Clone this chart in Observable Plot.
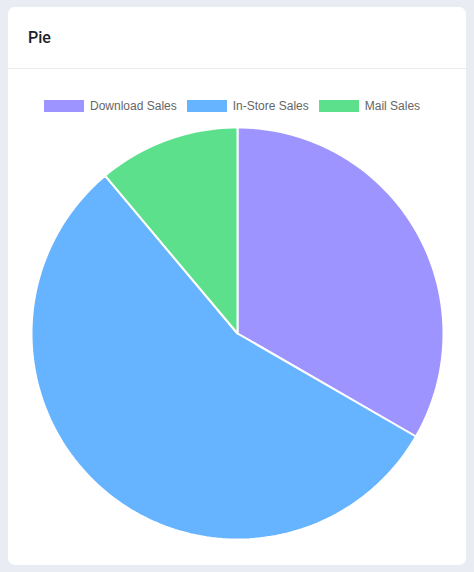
<!DOCTYPE html>
<html>
<head>
<meta charset="utf-8">
<script src="https://cdn.jsdelivr.net/npm/d3@7"></script>
<script src="https://cdn.jsdelivr.net/npm/@observablehq/plot@0.6"></script>
<style>
  html, body { margin: 0; padding: 0; }
  body { width: 474px; height: 572px; background: #e9ecf3; position: relative; overflow: hidden; font-family: "Liberation Sans", Arial, sans-serif; }
  .card { position: absolute; left: 8px; top: 7px; width: 458px; height: 558px; background: #fff; border-radius: 7px; }
  .head { position: absolute; left: 0; top: 0; width: 458px; height: 62px; border-bottom: 1px solid #e9ecef; box-sizing: border-box; }
  .title { position: absolute; left: 20px; top: 21px; font-family: Roboto, "Noto Sans", sans-serif; font-weight: 500; font-size: 16px; color: #1e2229; }
  .legend { position: absolute; left: 36px; top: 92px; display: flex; align-items: center; font-size: 12px; color: #666; }
  .item { display: flex; align-items: center; margin-right: 10px; }
  .sw { width: 40px; height: 12px; margin-right: 6px; }
  #chart { position: absolute; left: 22px; top: 119px; }
</style>
</head>
<body>
<div class="card">
  <div class="head"><div class="title">Pie</div></div>
  <div class="legend" id="legend"></div>
  <div id="chart"></div>
</div>
<script>
const categories = ["Download Sales", "In-Store Sales", "Mail Sales"];
const values = [300, 500, 100];
const colors = ["#9d94ff", "#66b3ff", "#5de08c"];

// legend
const legend = document.getElementById("legend");
categories.forEach((c, i) => {
  const it = document.createElement("div");
  it.className = "item";
  const sw = document.createElement("div");
  sw.className = "sw";
  sw.style.background = colors[i];
  const tx = document.createElement("span");
  tx.textContent = c;
  it.appendChild(sw); it.appendChild(tx);
  legend.appendChild(it);
});

// slice geometry from data
const arcs = d3.pie().sort(null).value(d => d.value)(categories.map((c, i) => ({label: c, value: values[i]})));
const pts = [];
arcs.forEach(a => {
  const n = Math.max(2, Math.ceil((a.endAngle - a.startAngle) / (Math.PI * 2) * 240));
  pts.push({label: a.data.label, x: 0, y: 0});
  for (let k = 0; k <= n; k++) {
    const t = a.startAngle + (a.endAngle - a.startAngle) * k / n;
    pts.push({label: a.data.label, x: Math.sin(t), y: Math.cos(t)});
  }
  pts.push({label: a.data.label, x: 0, y: 0});
});

const chart = Plot.plot({
  width: 414,
  height: 414,
  margin: 1,
  x: {domain: [-1, 1], axis: null},
  y: {domain: [-1, 1], axis: null},
  color: {domain: categories, range: colors},
  marks: [
    Plot.line(pts, {x: "x", y: "y", z: "label", fill: "label", stroke: "white", strokeWidth: 2, strokeLinejoin: "miter", curve: "linear"})
  ]
});
document.getElementById("chart").appendChild(chart);
</script>
</body>
</html>
